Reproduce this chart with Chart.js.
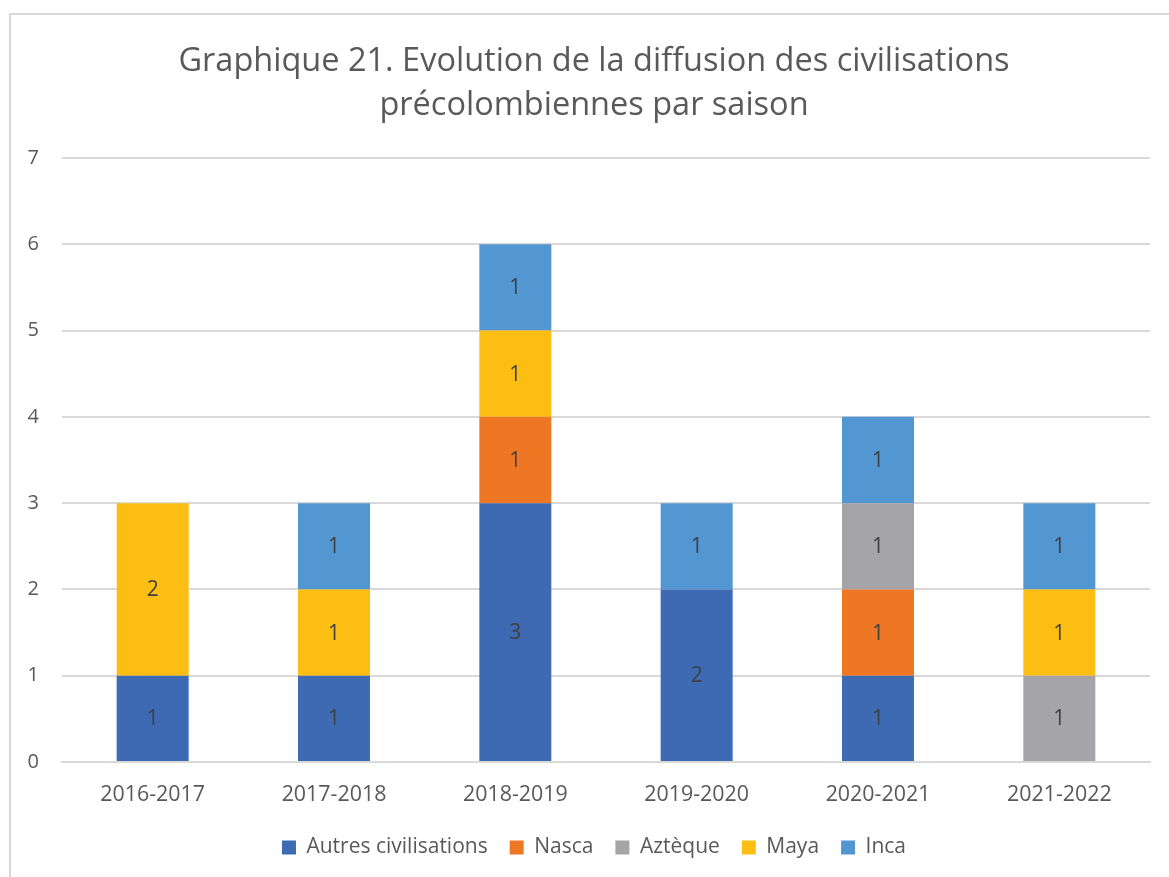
<!DOCTYPE html>
<html>
<head>
<meta charset="utf-8">
<script src="https://cdn.jsdelivr.net/npm/chart.js@4/dist/chart.umd.min.js"></script>
<style>
  html, body { margin: 0; padding: 0; background: #fff; overflow: hidden; }
  #frame { position: absolute; left: 9px; top: 13px; width: 1200px; height: 900px; border: 2px solid #d9d9d9; }
  #wrap { position: absolute; left: 0; top: 0; width: 1188px; height: 877px; }
</style>
</head>
<body>
<div id="frame"></div>
<div id="wrap"><canvas id="chart"></canvas></div>
<script>
// seasons and number of pre-Columbian civilisations shown per season
const seasons = ["2016-2017", "2017-2018", "2018-2019", "2019-2020", "2020-2021", "2021-2022"];
const autres = [1, 1, 3, 2, 1, 0];
const nasca = [0, 0, 1, 0, 1, 0];
const azteque = [0, 0, 0, 0, 1, 1];
const maya = [2, 1, 1, 0, 0, 1];
const inca = [0, 1, 1, 1, 1, 1];
const yTicks = [0, 1, 2, 3, 4, 5, 6, 7];

const FONT = "'Open Sans', sans-serif";

// writes the value in the middle of every non empty segment
const segmentLabels = {
  id: "segmentLabels",
  afterDatasetsDraw(chart) {
    const ctx = chart.ctx;
    ctx.save();
    ctx.font = "21px " + FONT;
    ctx.fillStyle = "#404040";
    ctx.textAlign = "center";
    ctx.textBaseline = "middle";
    chart.data.datasets.forEach((ds, i) => {
      const meta = chart.getDatasetMeta(i);
      meta.data.forEach((bar, j) => {
        const v = ds.data[j];
        if (!v) return;
        const p = bar.getProps(["x", "y", "base"], true);
        ctx.fillText(String(v), p.x, (p.y + p.base) / 2 + 1);
      });
    });
    ctx.restore();
  },
};

const chart = new Chart(document.getElementById("chart"), {
  type: "bar",
  data: {
    labels: seasons,
    datasets: [
      { label: "Autres civilisations", data: autres, backgroundColor: "#3d6ab3" },
      { label: "Nasca", data: nasca, backgroundColor: "#ed7723" },
      { label: "Aztèque", data: azteque, backgroundColor: "#a5a5a7" },
      { label: "Maya", data: maya, backgroundColor: "#fdbe13" },
      { label: "Inca", data: inca, backgroundColor: "#5296d2" },
    ],
  },
  options: {
    responsive: true,
    maintainAspectRatio: false,
    animation: false,
    layout: { padding: { left: 0, right: 0, top: 0, bottom: 9 } },
    datasets: { bar: { categoryPercentage: 1, barPercentage: 0.397, borderWidth: 0 } },
    plugins: {
      title: {
        display: true,
        text: ["Graphique 21. Evolution de la diffusion des civilisations", "précolombiennes par saison"],
        color: "#595959",
        font: { family: FONT, size: 32.5, weight: "normal", lineHeight: 1.354 },
        padding: { top: 40, bottom: 30 },
      },
      legend: {
        position: "bottom",
        labels: {
          color: "#595959",
          font: { family: FONT, size: 21 },
          boxWidth: 14,
          boxHeight: 14,
          padding: 22,
        },
      },
      tooltip: { enabled: false },
    },
    scales: {
      x: {
        stacked: true,
        grid: { display: false, drawTicks: false },
        border: { display: true, color: "#d9d9d9", width: 2 },
        ticks: { color: "#595959", font: { family: FONT, size: 21.4 }, padding: 20 },
        afterFit(scale) {
          scale.height = 53;
        },
      },
      y: {
        stacked: true,
        min: 0,
        max: 7,
        grid: { color: "#d9d9d9", lineWidth: 2, drawTicks: false },
        border: { display: false },
        afterBuildTicks(scale) {
          scale.ticks = yTicks.map((v) => ({ value: v }));
        },
        afterFit(scale) {
          scale.width = 62;
        },
        ticks: { color: "#595959", font: { family: FONT, size: 20 }, padding: 23 },
      },
      // empty right-hand axis, only keeps the plot off the right edge
      yRight: {
        position: "right",
        min: 0,
        max: 7,
        grid: { display: false, drawTicks: false },
        border: { display: false },
        ticks: { display: false },
        afterFit(scale) {
          scale.width = 38;
        },
      },
    },
  },
  plugins: [segmentLabels],
});
</script>
</body>
</html>
